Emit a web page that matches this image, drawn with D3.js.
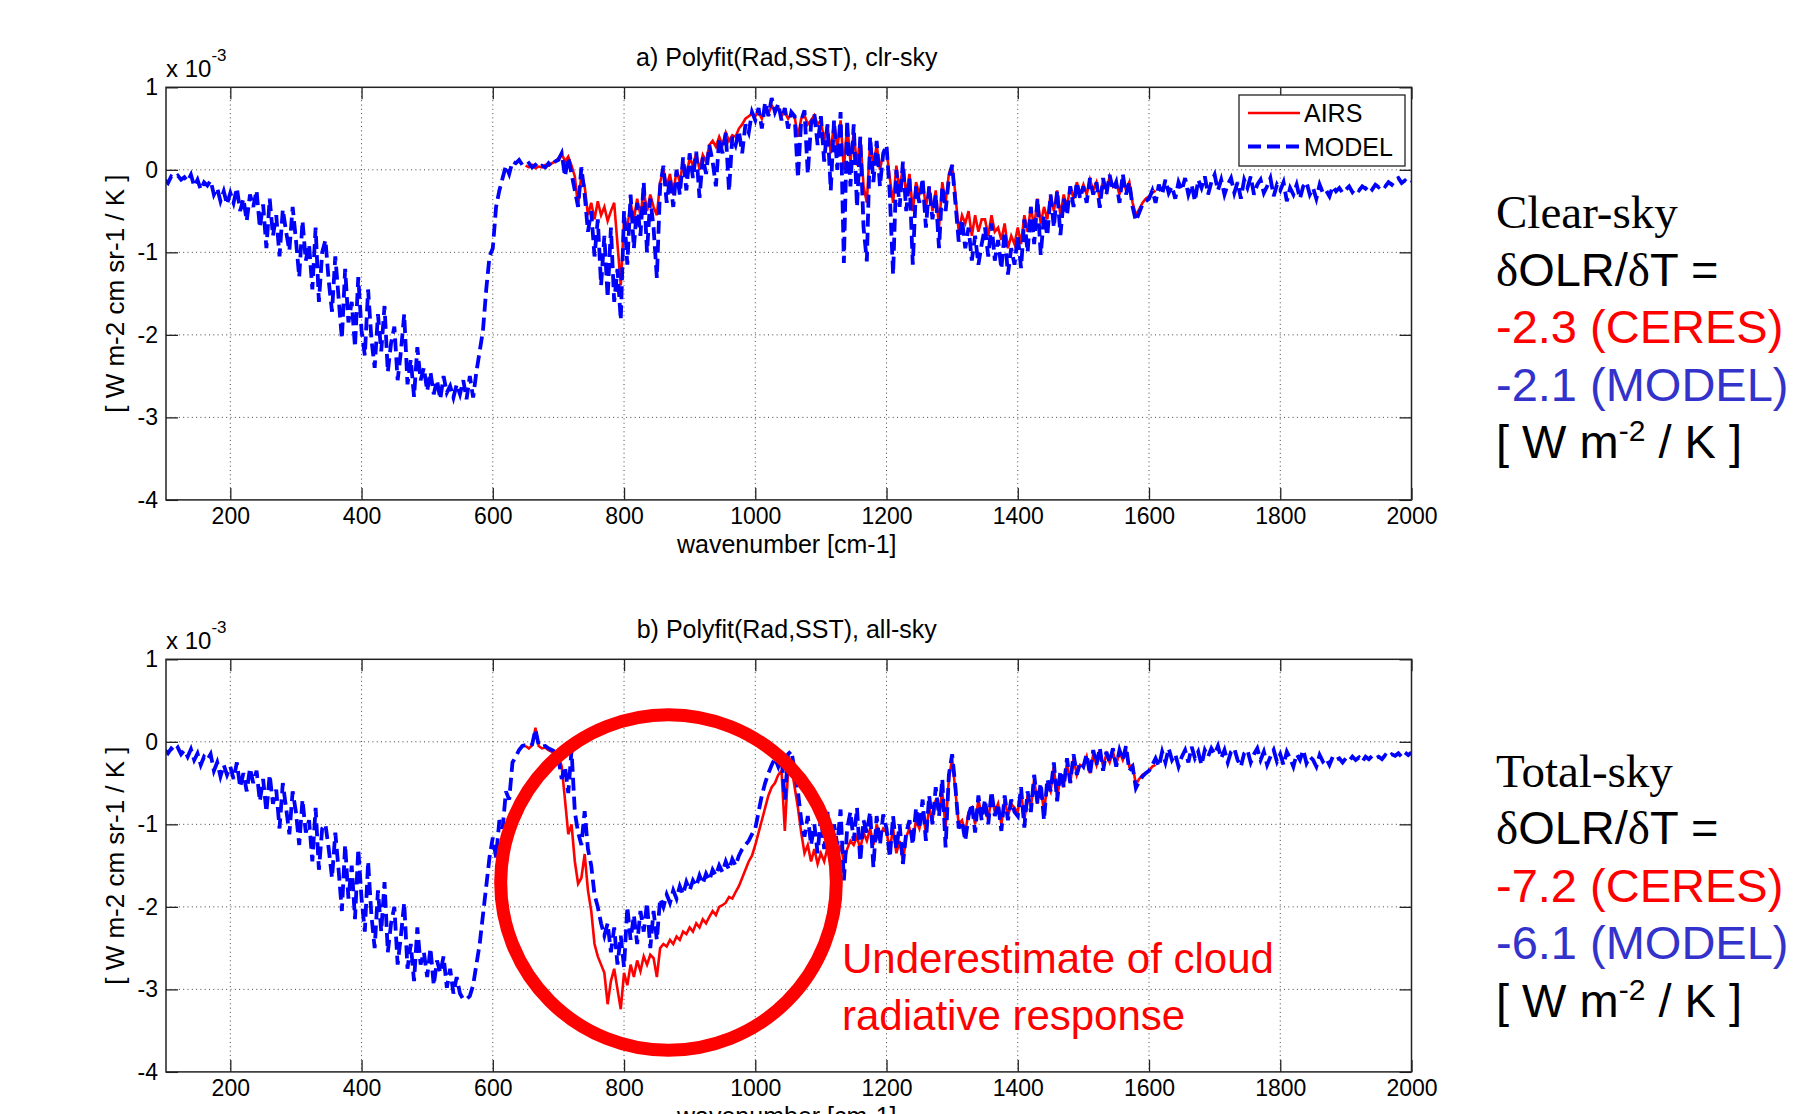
<!DOCTYPE html>
<html>
<head>
<meta charset="utf-8">
<script src="https://cdn.jsdelivr.net/npm/d3@7"></script>
<style>
  html, body { margin: 0; padding: 0; background: #fff; }
  svg { display: block; }
</style>
</head>
<body>
<svg id="chart" width="1800" height="1114"></svg>
<script>
// ---- spectral grids (cm-1) ----
const modelStart = 100, modelEnd = 2000, airsStart = 650, airsEnd = 1610, step = 5;

// ---- a) clear-sky regression, MODEL (x 1e-3 W m-2 cm sr-1 / K) ----
const clrModel = [
  -0.12, -0.16, -0.08, -0.10, -0.07, -0.12, -0.09, -0.14, -0.06, -0.20,
  -0.12, -0.24, -0.15, -0.19, -0.13, -0.30, -0.22, -0.38, -0.26, -0.42,
  -0.28, -0.40, -0.22, -0.50, -0.35, -0.62, -0.30, -0.45, -0.25, -0.70,
  -0.42, -0.95, -0.35, -0.80, -0.55, -1.05, -0.48, -0.75, -0.98, -0.45,
  -0.85, -1.30, -0.62, -1.10, -0.90, -1.45, -0.70, -1.60, -1.00, -0.85,
  -1.35, -1.72, -1.05, -1.55, -2.05, -1.20, -1.85, -1.60, -2.15, -1.30,
  -1.95, -2.25, -1.45, -2.05, -2.40, -1.75, -2.20, -1.65, -2.45, -2.10,
  -1.90, -2.55, -2.20, -1.75, -2.60, -2.30, -2.75, -2.15, -2.55, -2.40,
  -2.68, -2.45, -2.72, -2.55, -2.78, -2.50, -2.70, -2.62, -2.76, -2.60,
  -2.72, -2.55, -2.78, -2.50, -2.76, -2.45, -2.20, -1.95, -1.45, -1.05,
  -0.95, -0.45, -0.25, -0.10, 0.05, -0.05, 0.10, 0.08, 0.12, 0.06,
  0.05, 0.08, 0.03, 0.06, 0.02, 0.05, 0.03, 0.08, 0.04, 0.10,
  0.12, 0.20, -0.08, 0.15, -0.05, -0.25, -0.45, 0.03, -0.30, -0.75,
  -0.50, -1.05, -0.60, -1.40, -0.80, -1.55, -0.70, -1.60, -1.20, -1.82,
  -0.50, -1.15, -0.30, -0.95, -0.40, -0.80, -0.15, -1.00, -0.35, -0.70,
  -1.31, -0.20, 0.05, -0.40, -0.10, -0.45, 0.00, -0.30, 0.15, -0.25,
  0.20, -0.10, 0.22, -0.34, 0.15, -0.05, 0.30, 0.10, -0.20, 0.38,
  0.20, 0.45, -0.26, 0.40, 0.30, 0.47, 0.20, 0.55, 0.45, 0.70,
  0.60, 0.75, 0.50, 0.82, 0.65, 0.87, 0.70, 0.80, 0.60, 0.75,
  0.50, 0.70, 0.65, -0.10, 0.60, 0.72, -0.05, 0.55, 0.68, 0.30,
  0.65, 0.10, 0.55, -0.25, 0.60, 0.00, 0.70, -1.13, 0.60, -0.20,
  0.55, -0.45, 0.40, -0.70, -1.11, 0.40, -0.15, 0.35, -0.20, 0.20,
  0.30, -0.30, -1.27, 0.00, -0.45, 0.10, -0.50, -0.10, -1.15, -0.20,
  -0.40, -0.10, -0.70, -0.20, -0.60, -0.30, -0.95, -0.20, -0.50, -0.10,
  0.06, -0.40, -0.87, -0.60, -0.95, -0.70, -1.10, -0.80, -1.15, -0.90,
  -0.70, -1.05, -0.65, -1.10, -0.85, -1.20, -0.75, -1.27, -0.95, -1.15,
  -0.80, -1.19, -0.60, -1.00, -0.45, -0.90, -0.35, -1.03, -0.55, -0.80,
  -0.30, -0.70, -0.25, -0.79, -0.35, -0.55, -0.20, -0.45, -0.15, -0.35,
  -0.20, -0.40, -0.10, -0.30, -0.15, -0.46, -0.10, -0.30, -0.06, -0.25,
  -0.15, -0.40, -0.05, -0.30, -0.15, -0.45, -0.62, -0.52, -0.42, -0.38,
  -0.35, -0.25, -0.40, -0.18, -0.30, -0.12, -0.28, -0.20, -0.35, -0.15,
  -0.25, -0.10, -0.30, -0.18, -0.38, -0.12, -0.22, -0.08, -0.30, -0.15,
  -0.06, -0.25, -0.12, -0.30, -0.18, -0.10, -0.28, -0.15, -0.35, -0.12,
  -0.22, -0.08, -0.30, -0.18, -0.12, -0.28, -0.20, -0.10, -0.32, -0.18,
  -0.25, -0.15, -0.38, -0.22, -0.30, -0.18, -0.35, -0.20, -0.15, -0.30,
  -0.22, -0.35, -0.18, -0.28, -0.25, -0.32, -0.20, -0.26, -0.22, -0.28,
  -0.24, -0.20, -0.27, -0.22, -0.25, -0.20, -0.23, -0.19, -0.24, -0.18,
  -0.21, -0.17, -0.20, -0.15, -0.18, -0.12, -0.10, -0.16, -0.13, -0.17,
  -0.15
];

// ---- a) clear-sky regression, AIRS ----
const clrAirs = [
  0.05, 0.03, 0.06, 0.02, 0.04, 0.03, 0.06, 0.05, 0.08, 0.10,
  0.14, 0.20, 0.10, 0.16, 0.05, -0.08, -0.45, -0.05, -0.20, -0.55,
  -0.40, -0.60, -0.38, -0.55, -0.45, -0.62, -0.50, -0.40, -0.90, -1.40,
  -0.60, -0.70, -0.40, -0.60, -0.35, -0.55, -0.25, -0.50, -0.30, -0.45,
  -0.55, -0.15, 0.00, -0.20, -0.05, -0.30, 0.00, -0.15, 0.10, -0.10,
  0.15, 0.05, 0.20, 0.00, 0.18, 0.10, 0.30, 0.35, 0.28, 0.40,
  0.30, 0.45, 0.35, 0.42, 0.40, 0.50, 0.55, 0.62, 0.65, 0.68,
  0.65, 0.70, 0.62, 0.75, 0.68, 0.78, 0.72, 0.76, 0.65, 0.70,
  0.62, 0.68, 0.64, 0.40, 0.62, 0.66, 0.55, 0.60, 0.66, 0.55,
  0.60, 0.35, 0.55, 0.20, 0.58, 0.25, 0.60, 0.00, 0.55, 0.10,
  0.45, 0.05, 0.40, -0.20, -0.40, 0.35, 0.05, 0.30, 0.00, 0.20,
  0.25, -0.10, -0.40, 0.05, -0.25, 0.05, -0.30, -0.05, -0.50, -0.15,
  -0.30, -0.15, -0.45, -0.20, -0.50, -0.25, -0.70, -0.15, -0.40, -0.05,
  0.06, -0.30, -0.75, -0.55, -0.65, -0.50, -0.80, -0.55, -0.75, -0.60,
  -0.60, -0.80, -0.55, -0.75, -0.70, -0.85, -0.65, -0.95, -0.80, -0.90,
  -0.70, -0.90, -0.55, -0.75, -0.45, -0.70, -0.35, -0.65, -0.45, -0.60,
  -0.30, -0.50, -0.25, -0.55, -0.30, -0.45, -0.20, -0.35, -0.15, -0.30,
  -0.18, -0.30, -0.12, -0.25, -0.15, -0.35, -0.12, -0.25, -0.08, -0.20,
  -0.15, -0.30, -0.10, -0.25, -0.15, -0.40, -0.55, -0.48, -0.40, -0.35,
  -0.32, -0.28, -0.25
];

// ---- b) all-sky regression, MODEL ----
const allModel = [
  -0.10, -0.14, -0.08, -0.12, -0.07, -0.15, -0.10, -0.18, -0.09, -0.22,
  -0.14, -0.28, -0.18, -0.22, -0.15, -0.35, -0.25, -0.42, -0.28, -0.40,
  -0.30, -0.45, -0.25, -0.55, -0.38, -0.60, -0.32, -0.50, -0.35, -0.72,
  -0.45, -0.85, -0.40, -0.75, -0.58, -1.05, -0.50, -0.80, -1.12, -0.60,
  -0.85, -1.25, -0.70, -1.10, -0.95, -1.45, -0.80, -1.55, -1.05, -1.00,
  -1.30, -1.65, -1.10, -1.55, -2.05, -1.25, -1.90, -1.50, -2.15, -1.30,
  -1.90, -2.30, -1.45, -2.10, -2.50, -1.80, -2.30, -1.70, -2.55, -2.20,
  -2.00, -2.70, -2.35, -1.95, -2.75, -2.45, -2.90, -2.25, -2.70, -2.55,
  -2.85, -2.50, -2.95, -2.65, -2.80, -2.60, -2.98, -2.75, -3.05, -2.85,
  -3.05, -3.12, -3.12, -3.08, -2.95, -2.70, -2.45, -2.10, -1.75, -1.40,
  -1.16, -1.40, -0.95, -1.05, -0.60, -0.70, -0.25, -0.18, -0.10, -0.05,
  -0.04, -0.06, -0.03, 0.15, -0.04, -0.06, -0.05, -0.08, -0.10, -0.12,
  -0.20, -0.45, -0.30, -0.62, -0.10, -0.85, -1.10, -1.25, -0.84, -1.30,
  -1.50, -1.85, -2.00, -2.20, -2.35, -2.20, -2.55, -2.25, -2.70, -2.35,
  -2.73, -2.00, -2.40, -2.10, -2.45, -2.05, -2.30, -1.95, -2.50, -2.05,
  -2.40, -1.90, -2.00, -1.85, -1.95, -1.80, -1.90, -1.75, -1.85, -1.70,
  -1.80, -1.68, -1.75, -1.62, -1.72, -1.60, -1.68, -1.55, -1.62, -1.50,
  -1.58, -1.45, -1.55, -1.42, -1.50, -1.38, -1.30, -1.25, -1.20, -1.12,
  -1.05, -0.85, -0.65, -0.50, -0.38, -0.28, -0.20, -0.30, -0.18, -0.70,
  -0.15, -0.11, -0.35, -0.60, -0.95, -1.15, -0.90, -1.25, -1.00, -1.35,
  -0.90, -1.30, -0.85, -1.40, -1.00, -1.25, -0.82, -1.68, -1.05, -0.85,
  -1.20, -0.80, -1.45, -0.95, -1.10, -0.85, -1.52, -0.90, -1.25, -0.88,
  -1.05, -1.40, -0.90, -1.30, -1.00, -1.48, -1.10, -0.95, -1.25, -0.80,
  -1.05, -0.70, -1.20, -0.65, -1.00, -0.55, -0.90, -0.45, -1.28, -0.40,
  -0.15, -0.55, -1.05, -0.96, -1.20, -0.90, -0.75, -1.10, -0.65, -0.95,
  -0.70, -1.00, -0.60, -0.90, -0.75, -1.08, -0.65, -0.95, -0.70, -0.85,
  -0.90, -0.55, -1.04, -0.60, -0.85, -0.40, -0.75, -0.50, -0.95, -0.45,
  -0.60, -0.25, -0.72, -0.35, -0.55, -0.20, -0.50, -0.15, -0.40, -0.25,
  -0.30, -0.15, -0.40, -0.10, -0.28, -0.07, -0.35, -0.12, -0.25, -0.08,
  -0.30, -0.10, -0.22, -0.05, -0.35, -0.30, -0.56, -0.48, -0.42, -0.38,
  -0.35, -0.28, -0.20, -0.30, -0.12, -0.25, -0.08, -0.22, -0.15, -0.30,
  -0.18, -0.10, -0.25, -0.06, -0.20, -0.12, -0.28, -0.10, -0.18, -0.08,
  -0.15, -0.05, -0.20, -0.10, -0.25, -0.12, -0.08, -0.22, -0.30, -0.14,
  -0.10, -0.25, -0.15, -0.08, -0.22, -0.12, -0.28, -0.18, -0.10, -0.24,
  -0.15, -0.28, -0.12, -0.20, -0.30, -0.15, -0.22, -0.10, -0.26, -0.18,
  -0.22, -0.30, -0.16, -0.24, -0.20, -0.28, -0.18, -0.22, -0.20, -0.25,
  -0.20, -0.23, -0.18, -0.22, -0.19, -0.24, -0.18, -0.21, -0.17, -0.20,
  -0.18, -0.21, -0.16, -0.19, -0.15, -0.17, -0.14, -0.18, -0.13, -0.16,
  -0.13
];

// ---- b) all-sky regression, AIRS ----
const allAirs = [
  -0.05, -0.08, -0.04, 0.17, -0.05, -0.08, -0.07, -0.10, -0.12, -0.14,
  -0.15, -0.30, -0.70, -1.12, -1.00, -1.45, -1.72, -1.65, -1.36, -1.80,
  -2.05, -2.45, -2.60, -2.70, -2.80, -3.18, -2.90, -2.75, -3.00, -3.24,
  -2.80, -2.95, -2.70, -2.85, -2.65, -2.78, -2.60, -2.70, -2.58, -2.62,
  -2.85, -2.50, -2.45, -2.48, -2.40, -2.45, -2.36, -2.40, -2.30, -2.33,
  -2.25, -2.30, -2.20, -2.25, -2.15, -2.20, -2.12, -2.05, -2.10, -2.00,
  -1.98, -1.95, -1.88, -1.90, -1.82, -1.75, -1.65, -1.55, -1.45, -1.38,
  -1.25, -1.10, -0.95, -0.80, -0.65, -0.55, -0.50, -0.40, -0.35, -1.08,
  -0.35, -0.30, -0.55, -0.80, -1.10, -1.35, -1.25, -1.45, -1.30, -1.48,
  -1.35, -1.45, -1.28, -1.48, -1.30, -1.40, -1.25, -1.45, -1.30, -1.20,
  -1.25, -1.15, -1.30, -1.10, -1.20, -1.05, -1.25, -1.00, -1.15, -1.05,
  -1.10, -1.30, -1.05, -1.35, -1.20, -1.45, -1.15, -1.05, -1.20, -0.95,
  -1.05, -0.85, -1.10, -0.80, -0.95, -0.70, -0.85, -0.60, -1.05, -0.45,
  -0.20, -0.60, -1.00, -0.95, -1.10, -0.85, -0.80, -1.00, -0.70, -0.90,
  -0.75, -0.95, -0.65, -0.85, -0.75, -1.00, -0.70, -0.90, -0.75, -0.80,
  -0.85, -0.60, -0.95, -0.65, -0.80, -0.45, -0.75, -0.55, -0.85, -0.50,
  -0.60, -0.30, -0.70, -0.40, -0.55, -0.25, -0.50, -0.20, -0.40, -0.28,
  -0.30, -0.18, -0.38, -0.15, -0.28, -0.10, -0.30, -0.15, -0.25, -0.12,
  -0.28, -0.12, -0.22, -0.10, -0.30, -0.28, -0.52, -0.45, -0.40, -0.38,
  -0.35, -0.30, -0.28
];

// ---- axis ticks ----
const xTicks = [200, 400, 600, 800, 1000, 1200, 1400, 1600, 1800, 2000];
const yTicks = [-4, -3, -2, -1, 0, 1];
const seriesNames = ["AIRS", "MODEL"];

const wnModel = d3.range(modelStart, modelEnd + 1, step);
const wnAirs = d3.range(airsStart, airsEnd + 1, step);
const zip = (xs, ys) => xs.map((x, i) => [x, ys[i]]);

const RED = "#ff0000", BLUE = "#0000ff";
const SANS = "'Liberation Sans', Arial, Helvetica, sans-serif";
const SERIF = "'Liberation Serif', 'Times New Roman', serif";

const svg = d3.select("#chart");
svg.append("rect").attr("width", 1800).attr("height", 1114).attr("fill", "#fff");

const plotLeft = 166, plotRight = 1411.5, plotH = 412.6;
const x = d3.scaleLinear().domain([102, 2000]).range([plotLeft, plotRight]);

function drawPanel(top, title, airs, model, showLegend, id) {
  const y = d3.scaleLinear().domain([-4, 1]).range([top + plotH, top]);
  const g = svg.append("g");

  // dotted grid
  g.append("g").selectAll("line").data(xTicks.filter(t => t < 2000)).join("line")
    .attr("x1", d => x(d)).attr("x2", d => x(d))
    .attr("y1", top).attr("y2", top + plotH)
    .attr("stroke", "#444").attr("stroke-width", 1).attr("stroke-dasharray", "1,3.3");
  g.append("g").selectAll("line").data(yTicks.filter(t => t > -4 && t < 1)).join("line")
    .attr("x1", plotLeft).attr("x2", plotRight)
    .attr("y1", d => y(d)).attr("y2", d => y(d))
    .attr("stroke", "#444").attr("stroke-width", 1).attr("stroke-dasharray", "1,3.3");

  // clip
  svg.append("clipPath").attr("id", id).append("rect")
    .attr("x", plotLeft).attr("y", top).attr("width", plotRight - plotLeft).attr("height", plotH);

  const line = d3.line().x(d => x(d[0])).y(d => y(d[1]));
  const lines = g.append("g").attr("clip-path", `url(#${id})`);
  lines.append("path").datum(zip(wnAirs, airs)).attr("d", line)
    .attr("fill", "none").attr("stroke", RED).attr("stroke-width", 2.6);
  lines.append("path").datum(zip(wnModel, model)).attr("d", line)
    .attr("fill", "none").attr("stroke", BLUE).attr("stroke-width", 3.8)
    .attr("stroke-dasharray", "13,6");

  // axes (ticks inside, mirrored on all sides)
  const tickLen = 12;
  const axB = g.append("g").attr("transform", `translate(0,${top + plotH})`)
    .call(d3.axisBottom(x).tickValues(xTicks).tickSizeInner(-tickLen).tickSizeOuter(0)
      .tickPadding(8).tickFormat(d3.format("d")));
  const axT = g.append("g").attr("transform", `translate(0,${top})`)
    .call(d3.axisTop(x).tickValues(xTicks).tickSizeInner(-tickLen).tickSizeOuter(0).tickFormat(""));
  const axL = g.append("g").attr("transform", `translate(${plotLeft},0)`)
    .call(d3.axisLeft(y).tickValues(yTicks).tickSizeInner(-tickLen).tickSizeOuter(0).tickPadding(8)
      .tickFormat(d3.format("d")));
  const axR = g.append("g").attr("transform", `translate(${plotRight},0)`)
    .call(d3.axisRight(y).tickValues(yTicks).tickSizeInner(-tickLen).tickSizeOuter(0).tickFormat(""));
  [axB, axT, axL, axR].forEach(a => {
    a.select(".domain").remove();
    a.selectAll(".tick line").attr("stroke", "#222").attr("stroke-width", 1.3);
    a.selectAll("text").attr("font-family", SANS).attr("font-size", 23).attr("fill", "#000");
  });
  axL.selectAll("text").text(d => String(d));

  // box
  g.append("rect").attr("x", plotLeft).attr("y", top).attr("width", plotRight - plotLeft).attr("height", plotH)
    .attr("fill", "none").attr("stroke", "#222").attr("stroke-width", 1.5);

  // exponent label
  const ex = g.append("text").attr("x", plotLeft).attr("y", top - 10.5)
    .attr("font-family", SANS).attr("font-size", 24).attr("fill", "#000");
  ex.append("tspan").text("x 10");
  ex.append("tspan").attr("dy", -16).attr("font-size", 17).text("-3");

  // title
  g.append("text").attr("x", (plotLeft + plotRight) / 2 - 2).attr("y", top - 21)
    .attr("text-anchor", "middle").attr("font-family", SANS).attr("font-size", 25)
    .attr("fill", "#000").text(title);

  // axis labels
  g.append("text").attr("x", (plotLeft + plotRight) / 2 - 2).attr("y", top + plotH + 53)
    .attr("text-anchor", "middle").attr("font-family", SANS).attr("font-size", 25)
    .attr("fill", "#000").text("wavenumber [cm-1]");
  g.append("text")
    .attr("transform", `translate(${124},${top + plotH / 2}) rotate(-90)`)
    .attr("text-anchor", "middle").attr("font-family", SANS).attr("font-size", 26)
    .attr("fill", "#000").text("[ W m-2 cm sr-1 / K ]");

  if (showLegend) {
    const lg = g.append("g");
    lg.append("rect").attr("x", 1239).attr("y", 95).attr("width", 166).attr("height", 71)
      .attr("fill", "#fff").attr("stroke", "#222").attr("stroke-width", 1.3);
    const rows = [
      { name: seriesNames[0], color: RED, dash: null, w: 2.6, yy: 113 },
      { name: seriesNames[1], color: BLUE, dash: "13,6", w: 3.8, yy: 146.5 }
    ];
    rows.forEach(r => {
      lg.append("line").attr("x1", 1248).attr("x2", 1300).attr("y1", r.yy).attr("y2", r.yy)
        .attr("stroke", r.color).attr("stroke-width", r.w).attr("stroke-dasharray", r.dash);
      lg.append("text").attr("x", 1304).attr("y", r.yy + 9).attr("font-family", SANS)
        .attr("font-size", 25).attr("fill", "#000").text(r.name);
    });
  }
  return y;
}

drawPanel(87.3, "a) Polyfit(Rad,SST), clr-sky", clrAirs, clrModel, true, "clipA");
drawPanel(659.3, "b) Polyfit(Rad,SST), all-sky", allAirs, allModel, false, "clipB");

// annotation ring and note on panel b
svg.append("circle").attr("cx", 668.5).attr("cy", 882.5).attr("r", 167.8)
  .attr("fill", "none").attr("stroke", RED).attr("stroke-width", 13);
const note = svg.append("text").attr("font-family", SANS).attr("font-size", 42).attr("fill", RED);
note.append("tspan").attr("x", 842).attr("y", 973).text("Underestimate of cloud");
note.append("tspan").attr("x", 842).attr("y", 1030).text("radiative response");

// feedback summaries on the right
const summaries = [
  { top: 228, head: "Clear-sky", ceres: "-2.3 (CERES)", model: "-2.1 (MODEL)" },
  { top: 786.7, head: "Total-sky", ceres: "-7.2 (CERES)", model: "-6.1 (MODEL)" }
];
const lh = 57.5, tx = 1496, fs = 47;
summaries.forEach(s => {
  const g = svg.append("g").attr("font-size", fs);
  g.append("text").attr("x", tx).attr("y", s.top).attr("font-family", SERIF).attr("fill", "#000").text(s.head);
  const t2 = g.append("text").attr("x", tx).attr("y", s.top + lh).attr("fill", "#000").attr("font-family", SANS);
  t2.append("tspan").attr("font-family", SERIF).text("δ");
  t2.append("tspan").text("OLR/");
  t2.append("tspan").attr("font-family", SERIF).text("δ");
  t2.append("tspan").text("T =");
  g.append("text").attr("x", tx).attr("y", s.top + 2 * lh).attr("font-family", SANS).attr("fill", RED).text(s.ceres);
  g.append("text").attr("x", tx).attr("y", s.top + 3 * lh).attr("font-family", SANS).attr("fill", "#3333cc").text(s.model);
  const t5 = g.append("text").attr("x", tx).attr("y", s.top + 4 * lh).attr("font-family", SANS).attr("fill", "#000");
  t5.append("tspan").text("[ W m");
  t5.append("tspan").attr("font-size", 30).attr("dy", -17).text("-2");
  t5.append("tspan").attr("dy", 17).text(" / K ]");
});
</script>
</body>
</html>
